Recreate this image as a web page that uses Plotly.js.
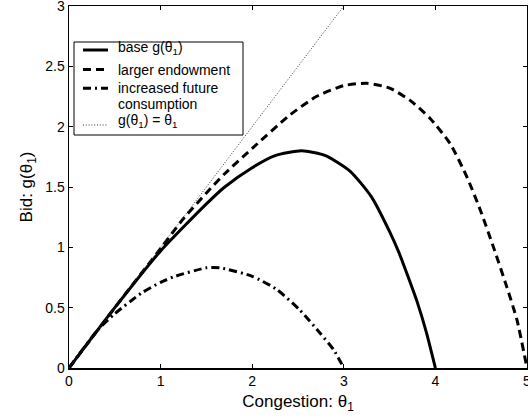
<!DOCTYPE html>
<html>
<head>
<meta charset="utf-8">
<script src="https://cdn.plot.ly/plotly-3.0.1.min.js"></script>
<style>html,body{margin:0;padding:0;background:#fff;}#chart{width:528px;height:419px;}</style>
</head>
<body>
<div id="chart"></div>
<script>
// Values
var baseX = [0, 0.5, 1.0, 1.5, 1.7, 2.0, 2.25, 2.54, 2.8, 3.07, 3.3, 3.5, 3.6, 3.7, 3.8, 3.9, 4.0];
var baseY = [0, 0.5, 0.97, 1.36, 1.5, 1.66, 1.76, 1.80, 1.76, 1.63, 1.42, 1.13, 0.96, 0.76, 0.55, 0.30, 0];

var largerX = [0, 0.5, 1.0, 1.23, 1.5, 1.7, 2.0, 2.4, 2.7, 3.0, 3.25, 3.5, 3.72, 3.94, 4.16, 4.34, 4.49, 4.63, 4.78, 4.89, 5.0];
var largerY = [0, 0.5, 0.99, 1.22, 1.45, 1.61, 1.82, 2.09, 2.25, 2.34, 2.36, 2.32, 2.22, 2.07, 1.86, 1.59, 1.31, 1.01, 0.67, 0.40, 0];

var futureX = [0, 0.32, 0.5, 0.79, 1.0, 1.16, 1.5, 1.65, 2.0, 2.27, 2.52, 2.74, 2.89, 3.0];
var futureY = [0, 0.32, 0.45, 0.62, 0.71, 0.76, 0.83, 0.83, 0.76, 0.65, 0.48, 0.29, 0.15, 0];

var diagX = [0, 3];
var diagY = [0, 3];

var xTicks = [0, 1, 2, 3, 4, 5];
var yTicks = [0, 0.5, 1, 1.5, 2, 2.5, 3];
var yTickText = ['0', '0.5', '1', '1.5', '2', '2.5', '3'];

var names = ['base g(θ<sub>1</sub>)', 'larger endowment', 'increased future<br>consumption', 'g(θ<sub>1</sub>) = θ<sub>1</sub>'];

var font = 'Liberation Sans, Arial, Helvetica, sans-serif';

var styles = [
  {color: '#000', width: 3, dash: 'solid'},
  {color: '#000', width: 3, dash: '8px,5px'},
  {color: '#000', width: 3, dash: '8px,4px,2px,4px'},
  {color: '#333', width: 1, dash: '1px,1.8px'}
];

var series = [[baseX, baseY], [largerX, largerY], [futureX, futureY], [diagX, diagY]];

var traces = series.map(function (s, i) {
  var ln = {color: styles[i].color, width: styles[i].width, dash: styles[i].dash};
  if (i < 3) { ln.shape = 'spline'; ln.smoothing = 0.6; }
  return {x: s[0], y: s[1], name: names[i], mode: 'lines', line: ln, showlegend: false};
});

// Legend drawn in the plot's paper coordinates (plot area 69..527 x 6..368 px)
var W = 458, H = 362, L = 69, B = 368;
function px(v) { return (v - L) / W; }
function py(v) { return (B - v) / H; }

var shapes = [{
  type: 'rect', xref: 'paper', yref: 'paper',
  x0: px(74), x1: px(243), y0: py(135), y1: py(42),
  line: {color: '#000', width: 1}, fillcolor: '#fff', layer: 'above'
}];
var sampleY = [50, 69.5, 88.3, 125];
styles.forEach(function (st, i) {
  shapes.push({
    type: 'line', xref: 'paper', yref: 'paper',
    x0: px(83), x1: px(108), y0: py(sampleY[i]), y1: py(sampleY[i]),
    line: {color: st.color, width: st.width, dash: st.dash}, layer: 'above'
  });
});

var textLines = [];
names.forEach(function (n) { n.split('<br>').forEach(function (t) { textLines.push(t); }); });
var textY = [48, 70, 88.5, 104, 121];
var annotations = textLines.map(function (t, i) {
  return {
    text: t, xref: 'paper', yref: 'paper', x: px(116), y: py(textY[i]),
    xanchor: 'left', yanchor: 'middle', showarrow: false,
    font: {family: font, size: 14, color: '#000'}
  };
});

var layout = {
  width: 528, height: 419,
  margin: {l: 69, r: 1, t: 6, b: 51},
  paper_bgcolor: '#fff', plot_bgcolor: '#fff',
  font: {family: font, size: 14, color: '#000'},
  showlegend: false,
  shapes: shapes,
  annotations: annotations,
  xaxis: {
    range: [0, 5], tickvals: xTicks, ticktext: xTicks.map(String),
    ticks: 'inside', ticklen: 4, tickcolor: '#000', tickwidth: 1,
    showline: true, linecolor: '#000', linewidth: 1.5, mirror: 'ticks',
    showgrid: false, zeroline: false, ticklabeloverflow: 'allow',
    tickfont: {family: font, size: 14, color: '#000'},
    title: {text: 'Congestion: θ<sub>1</sub>', font: {family: font, size: 17, color: '#000'}, standoff: 7}
  },
  yaxis: {
    range: [0, 3], tickvals: yTicks, ticktext: yTickText,
    ticks: 'inside', ticklen: 4, tickcolor: '#000', tickwidth: 1,
    showline: true, linecolor: '#000', linewidth: 1.5, mirror: 'ticks',
    showgrid: false, zeroline: false, ticklabeloverflow: 'allow',
    tickfont: {family: font, size: 14, color: '#000'},
    title: {text: 'Bid: g(θ<sub>1</sub>)', font: {family: font, size: 17, color: '#000'}, standoff: 8}
  }
};

Plotly.newPlot('chart', traces, layout, {staticPlot: true, displayModeBar: false});
</script>
</body>
</html>
